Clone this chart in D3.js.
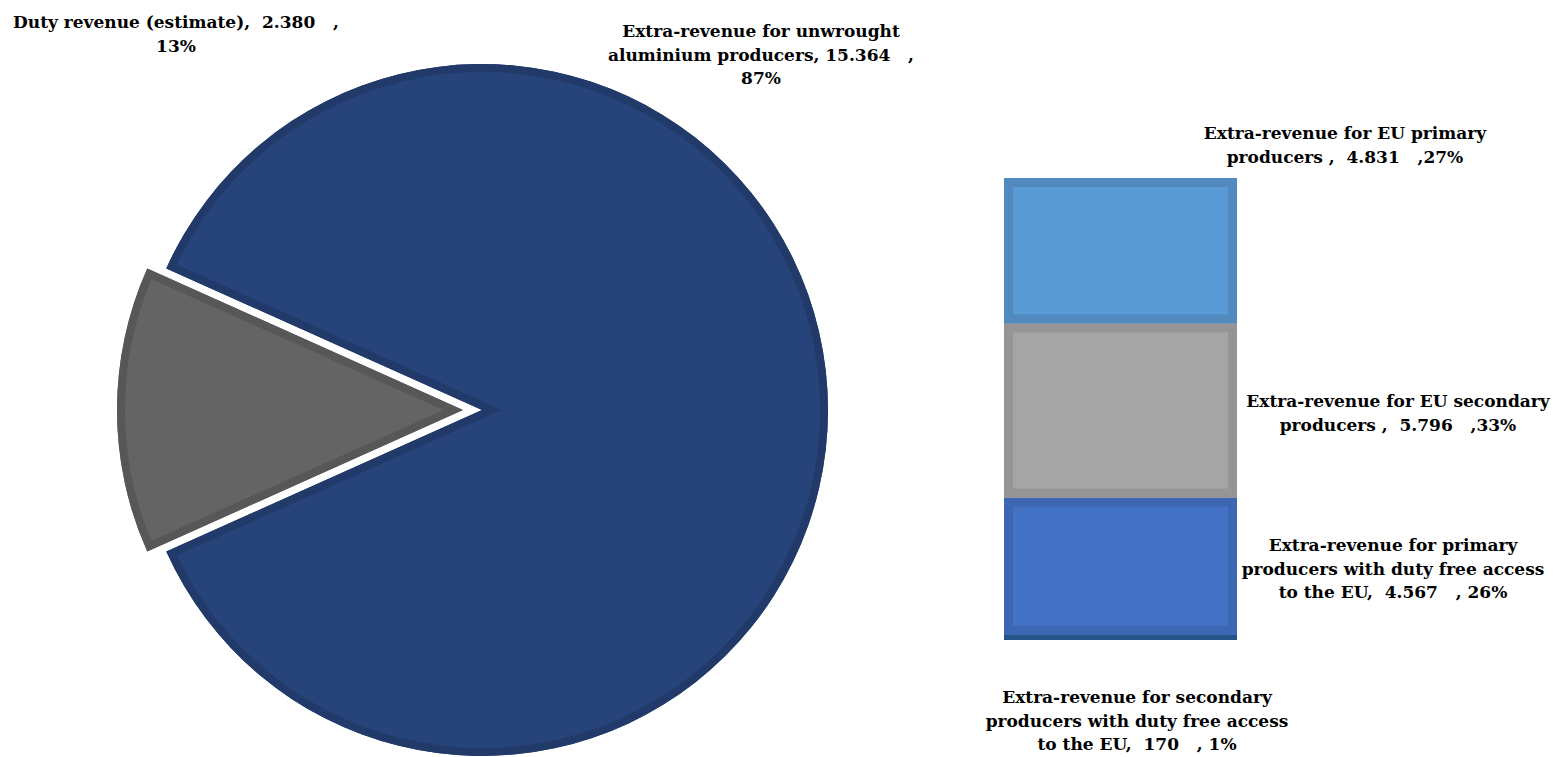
<!DOCTYPE html>
<html>
<head>
<meta charset="utf-8">
<script src="https://cdn.jsdelivr.net/npm/d3@7/dist/d3.min.js"></script>
<style>
  html, body { margin: 0; padding: 0; background: #ffffff; }
  svg { display: block; }
  .lbl { font-family: "DejaVu Serif", "Liberation Serif", serif; font-weight: bold; font-size: 17px; fill: #000; white-space: pre; }
</style>
</head>
<body>
<svg id="chart" width="1558" height="757"></svg>
<script>
// Pie: split of total revenue
const pieNames = ["Extra-revenue for unwrought aluminium producers", "Duty revenue (estimate)"];
const pieValues = [15364, 2380];
const pieLabels = [
  ["Extra-revenue for unwrought", "aluminium producers, 15.364   ,", "87%"],
  ["Duty revenue (estimate),  2.380   ,", "13%"]
];
const pieFill = ["#27447a", "#646464"];
const pieEdge = ["#213a69", "#575757"];

// Stacked bar: breakdown of the unwrought-producer extra-revenue (bottom to top)
const barNames = [
  "Extra-revenue for secondary producers with duty free access to the EU",
  "Extra-revenue for primary producers with duty free access to the EU",
  "Extra-revenue for EU secondary producers",
  "Extra-revenue for EU primary producers"
];
const barValues = [170, 4567, 5796, 4831];
const barLabels = [
  ["Extra-revenue for secondary", "producers with duty free access", "to the EU,  170   , 1%"],
  ["Extra-revenue for primary", "producers with duty free access", "to the EU,  4.567   , 26%"],
  ["Extra-revenue for EU secondary", "producers ,  5.796   ,33%"],
  ["Extra-revenue for EU primary", "producers ,  4.831   ,27%"]
];
const barFill = ["#264478", "#4472c4", "#a5a5a5", "#5b9bd5"];
const barEdge = ["#22548a", "#3d66b3", "#959595", "#528ac0"];

const svg = d3.select("#chart");
const defs = svg.append("defs");
const lineH = 23.5;

function drawLabel(lines, cx, topY) {
  const t = svg.append("text").attr("class", "lbl").attr("text-anchor", "middle")
    .attr("xml:space", "preserve");
  lines.forEach((s, i) => {
    t.append("tspan").attr("x", cx).attr("y", topY + i * lineH).text(s);
  });
}

// ---- Pie ----
const cx = 482, cy = 410, R = 346, explode = 19;
const total = d3.sum(pieValues);
const dutyAngle = 2 * Math.PI * pieValues[1] / total;
const start = -Math.PI / 2 + dutyAngle / 2;
const pie = d3.pie().sort(null).value(d => d).startAngle(start).endAngle(start + 2 * Math.PI);
const arcs = pie(pieValues);
const arcGen = d3.arc().innerRadius(0).outerRadius(R);

const pieG = svg.append("g").attr("transform", `translate(${cx},${cy})`);
arcs.forEach((a, i) => {
  const mid = (a.startAngle + a.endAngle) / 2;
  const off = i === 1 ? explode : 0;
  const dx = Math.sin(mid) * off, dy = -Math.cos(mid) * off;
  const g = pieG.append("g").attr("transform", `translate(${dx},${dy})`);
  const id = "pclip" + i;
  defs.append("clipPath").attr("id", id).append("path").attr("d", arcGen(a));
  g.append("path").attr("d", arcGen(a)).attr("fill", pieFill[i]);
  // darker inner rim
  g.append("path").attr("d", arcGen(a)).attr("fill", "none")
    .attr("stroke", pieEdge[i]).attr("stroke-width", 16).attr("stroke-linejoin", "miter")
    .attr("clip-path", `url(#${id})`);
});

drawLabel(pieLabels[1], 176, 28);
drawLabel(pieLabels[0], 761, 37);

// ---- Stacked bar ----
const bx = 1004, bw = 233;
const y = d3.scaleLinear().domain([0, d3.sum(barValues)]).range([640, 178]);
let acc = 0;
barValues.forEach((v, i) => {
  const y0 = y(acc), y1 = y(acc + v);
  acc += v;
  const id = "bclip" + i;
  defs.append("clipPath").attr("id", id).append("rect")
    .attr("x", bx).attr("y", y1).attr("width", bw).attr("height", y0 - y1);
  svg.append("rect").attr("x", bx).attr("y", y1).attr("width", bw).attr("height", y0 - y1)
    .attr("fill", barFill[i]);
  svg.append("rect").attr("x", bx).attr("y", y1).attr("width", bw).attr("height", y0 - y1)
    .attr("fill", "none").attr("stroke", barEdge[i]).attr("stroke-width", 18)
    .attr("clip-path", `url(#${id})`);
});

drawLabel(barLabels[3], 1345, 139);
drawLabel(barLabels[2], 1398, 407);
drawLabel(barLabels[1], 1393, 551);
drawLabel(barLabels[0], 1137, 703);
</script>
</body>
</html>
